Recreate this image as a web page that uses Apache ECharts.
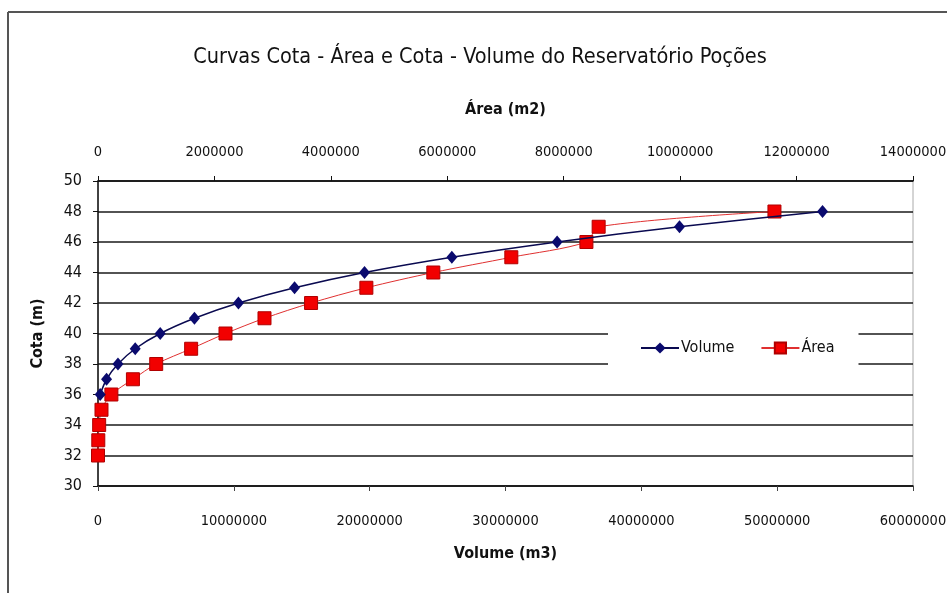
<!DOCTYPE html>
<html>
<head>
<meta charset="utf-8">
<script src="https://cdn.jsdelivr.net/npm/echarts@6/dist/echarts.min.js"></script>
<style>
  html, body { margin: 0; padding: 0; background: #fff; }
  #chart { width: 947px; height: 593px; }
</style>
</head>
<body>
<div id="chart"></div>
<script>
// Cota (m) levels of the reservoir
const cotaVolume = [36, 37, 38, 39, 40, 41, 42, 43, 44, 45, 46, 47, 48];
const volumeM3 = [160000, 630000, 1470000, 2740000, 4580000, 7100000, 10340000,
                  14470000, 19620000, 26050000, 33800000, 42810000, 53340000];

const cotaArea = [32, 33, 34, 35, 36, 37, 38, 39, 40, 41, 42, 43, 44, 45, 46, 47, 48];
const areaM2 = [0, 5000, 20000, 60000, 230000, 600000, 1000000, 1600000, 2190000,
                2860000, 3660000, 4610000, 5760000, 7100000, 8390000, 8600000, 11620000];

const font = "'Liberation Sans Narrow', 'DejaVu Sans Condensed', 'Liberation Sans', sans-serif";
const plain = v => String(v);

const chart = echarts.init(document.getElementById('chart'), null, { renderer: 'canvas' });

chart.setOption({
  backgroundColor: '#fff',
  animation: false,
  title: {
    text: 'Curvas Cota - Área e Cota - Volume do Reservatório Poções',
    left: 475, top: 52, textAlign: 'center', textVerticalAlign: 'middle',
    textStyle: { fontFamily: font, fontSize: 21.5, fontWeight: 'normal', color: '#111' }
  },
  legend: {
    left: 608, top: 322,
    backgroundColor: '#fff',
    padding: [18, 24, 18, 32],
    itemWidth: 38, itemHeight: 14, itemGap: 26,
    textStyle: { fontFamily: font, fontSize: 16, color: '#111', padding: [0, 0, 0, -3] },
    data: ['Volume', 'Área']
  },
  grid: {
    left: 98, right: 34, top: 181, bottom: 107,
    outerBoundsMode: 'none',
    show: true, borderColor: '#aaa', borderWidth: 1
  },
  xAxis: [
    {
      type: 'value', position: 'bottom', min: 0, max: 60000000, interval: 10000000,
      name: 'Volume (m3)', nameLocation: 'middle', nameGap: 60,
      nameTextStyle: { fontFamily: font, fontSize: 16, fontWeight: 'bold', color: '#111' },
      axisLine: { show: true, lineStyle: { color: '#111', width: 1.5 } },
      axisTick: { show: true, length: 5, lineStyle: { color: '#444' } },
      axisLabel: { fontFamily: font, fontSize: 14.5, color: '#111', margin: 28, formatter: plain },
      splitLine: { show: false }
    },
    {
      type: 'value', position: 'top', min: 0, max: 14000000, interval: 2000000,
      name: 'Área (m2)', nameLocation: 'middle', nameGap: 63,
      nameTextStyle: { fontFamily: font, fontSize: 16, fontWeight: 'bold', color: '#111' },
      axisLine: { show: true, lineStyle: { color: '#111', width: 1.5 } },
      axisTick: { show: true, length: 5, inside: false, lineStyle: { color: '#111' } },
      axisLabel: { fontFamily: font, fontSize: 14.5, color: '#111', margin: 21, formatter: plain },
      splitLine: { show: false }
    }
  ],
  yAxis: {
    type: 'value', min: 30, max: 50, interval: 2,
    name: 'Cota (m)', nameLocation: 'middle', nameGap: 52, nameRotate: 90,
    nameTextStyle: { fontFamily: font, fontSize: 16, fontWeight: 'bold', color: '#111' },
    axisLine: { show: true, lineStyle: { color: '#111', width: 1.5 } },
    axisTick: { show: true, length: 5, lineStyle: { color: '#111' } },
    axisLabel: { fontFamily: font, fontSize: 16, color: '#111', margin: 16 },
    splitLine: { show: true, lineStyle: { color: '#1a1a1a', width: 1.5 } }
  },
  series: [
    {
      name: 'Volume', type: 'line', xAxisIndex: 0, smooth: 0.3,
      data: volumeM3.map((v, i) => [v, cotaVolume[i]]),
      symbol: 'diamond', symbolSize: [11, 13],
      itemStyle: { color: '#0a0a6e' },
      lineStyle: { color: '#0a0a50', width: 1.5 },
      z: 3
    },
    {
      name: 'Área', type: 'line', xAxisIndex: 1, smooth: 0.3,
      data: areaM2.map((v, i) => [v, cotaArea[i]]),
      symbol: 'rect', symbolSize: 13,
      itemStyle: { color: '#f20000', borderColor: '#b00000', borderWidth: 1 },
      lineStyle: { color: '#e03030', width: 1 },
      z: 2
    }
  ],
  graphic: [
    { type: 'line', shape: { x1: 8, y1: 12, x2: 947, y2: 12 }, style: { stroke: '#555', lineWidth: 2 } },
    { type: 'line', shape: { x1: 8, y1: 12, x2: 8, y2: 593 }, style: { stroke: '#555', lineWidth: 2 } }
  ]
});
</script>
</body>
</html>
